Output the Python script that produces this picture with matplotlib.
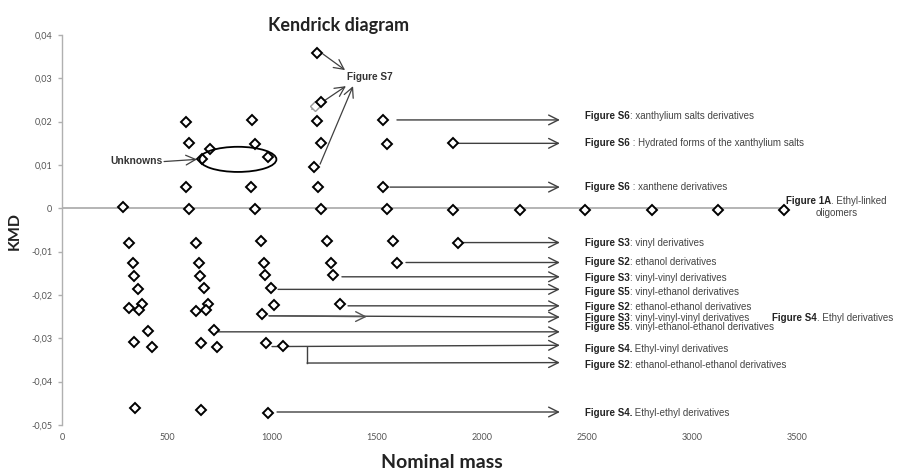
import matplotlib
matplotlib.use("Agg")
import matplotlib.pyplot as plt
from matplotlib.patches import Ellipse

# ---------------- data ----------------
nominal_mass = [
    290, 605, 919, 1233, 1548, 1862, 2181, 2490, 2810, 3124, 3438,
    590, 605, 667, 705, 590,
    905, 919, 981, 900,
    1214, 1233, 1214, 1233, 1200, 1219,
    1529, 1548, 1529,
    1862,
    320, 338, 343, 362, 381, 319, 367, 410, 343, 429, 348,
    637, 652, 657, 676, 693, 637, 684, 724, 660, 740, 660,
    948, 964, 969, 993, 1010, 950, 971, 1052, 981,
    1260, 1281, 1290, 1324,
    1576, 1595,
    1886,
]
kmd = [
    0.0002, -0.0002, -0.0002, -0.0002, -0.0002, -0.0004, -0.0004, -0.0004, -0.0004, -0.0004, -0.0004,
    0.0200, 0.0150, 0.0113, 0.0137, 0.0049,
    0.0204, 0.0148, 0.0118, 0.0049,
    0.0359, 0.0245, 0.0201, 0.0150, 0.0095, 0.0049,
    0.0204, 0.0148, 0.0049,
    0.0150,
    -0.0079, -0.0127, -0.0157, -0.0185, -0.0220, -0.0231, -0.0234, -0.0282, -0.0308, -0.0319, -0.0460,
    -0.0079, -0.0126, -0.0155, -0.0183, -0.0220, -0.0236, -0.0234, -0.0280, -0.0310, -0.0319, -0.0465,
    -0.0076, -0.0126, -0.0153, -0.0183, -0.0222, -0.0243, -0.0310, -0.0317, -0.0472,
    -0.0076, -0.0125, -0.0153, -0.0220,
    -0.0076, -0.0126,
    -0.0079,
]

# faint ghost marker near the S7 group
ghost_mass = [1205]
ghost_kmd = [0.0236]

x_ticks = [0, 500, 1000, 1500, 2000, 2500, 3000, 3500]
y_ticks = [0.04, 0.03, 0.02, 0.01, 0.0, -0.01, -0.02, -0.03, -0.04, -0.05]
y_tick_labels = ["0,04", "0,03", "0,02", "0,01", "0", "-0,01", "-0,02", "-0,03", "-0,04", "-0,05"]

# series-annotation arrows: start mass, start kmd, end kmd (end mass common)
arrow_end_mass = 2371
arrow_start_mass = [1595, 1862, 1562, 1886, 1638, 1333, 1029, 1362, 986, 743, 1000, 1024]
arrow_start_kmd = [0.0204, 0.0150, 0.0049, -0.0079, -0.0125, -0.0158, -0.0187, -0.0225,
                   -0.0248, -0.0285, -0.0319, -0.0470]
arrow_end_kmd = [0.0204, 0.0150, 0.0049, -0.0079, -0.0125, -0.0158, -0.0187, -0.0225,
                 -0.0251, -0.0285, -0.0316, -0.0470]

# bracket for ethanol-ethanol-ethanol
bracket_mass = 1167
bracket_kmd = [-0.0319, -0.0357]

# short arrow (vinyl-vinyl-vinyl)
short_arrow = [(986, -0.0248), (1452, -0.0250)]

# labels: bold part, normal part, kmd position
label_mass = 2490
label_bold = ["Figure S6", "Figure S6", "Figure S6",
              "Figure S3", "Figure S2", "Figure S3", "Figure S5", "Figure S2",
              "Figure S3", "Figure S5", "Figure S4.", "Figure S2", "Figure S4."]
label_rest = [": xanthylium salts derivatives", " : Hydrated forms of the xanthylium salts",
              " : xanthene derivatives",
              ": vinyl derivatives", ": ethanol derivatives", ": vinyl-vinyl derivatives",
              ": vinyl-ethanol derivatives", ": ethanol-ethanol derivatives",
              ": vinyl-vinyl-vinyl derivatives", ". vinyl-ethanol-ethanol derivatives",
              " Ethyl-vinyl derivatives", ": ethanol-ethanol-ethanol derivatives",
              " Ethyl-ethyl derivatives"]
label_kmd = [0.0213, 0.0150, 0.0049, -0.0079, -0.0123, -0.0160, -0.0192, -0.0227,
             -0.0253, -0.0274, -0.0324, -0.0361, -0.0472]

# S7 arrows
s7_start = [(1243, 0.0356), (1190, 0.0229), (1229, 0.0102)]
s7_end = [(1348, 0.0319), (1352, 0.0282), (1386, 0.0282)]

# ---------------- figure ----------------
W, H = 899, 471
fig = plt.figure(figsize=(W / 100, H / 100), dpi=100)
ax_left, ax_right, ax_top, ax_bot = 62, 899, 35, 425
ax = fig.add_axes([ax_left / W, (H - ax_bot) / H, (ax_right - ax_left) / W, (ax_bot - ax_top) / H])
xmax = (ax_right - ax_left) * 500 / 105
ax.set_xlim(0, xmax)
ax.set_ylim(-0.05, 0.04)

for s in ["top", "right", "bottom"]:
    ax.spines[s].set_visible(False)
ax.spines["left"].set_color("#b0b0b0")
ax.spines["left"].set_linewidth(1.0)

tick_font = dict(family="Lato", size=6.5, color="#555555")
ax.set_xticks(x_ticks)
ax.set_xticklabels([str(v) for v in x_ticks], **tick_font)
ax.set_yticks(y_ticks)
ax.set_yticklabels(y_tick_labels, **tick_font)
ax.tick_params(axis="x", length=0, pad=6)
ax.tick_params(axis="y", length=3, width=1, color="#b0b0b0", pad=4)

# zero line
ax.plot([0, 3438], [0, 0], color="#a8a8a8", lw=1.2, zorder=1)

line_c = "#404040"
ahead = "->,head_length=0.7,head_width=0.35"

def arrow(p0, p1, lw=1.0, color=line_c):
    ax.annotate("", xy=p1, xytext=p0,
                arrowprops=dict(arrowstyle=ahead, color=color, lw=lw,
                                shrinkA=0, shrinkB=0, mutation_scale=10),
                annotation_clip=False, zorder=2)

for xs, ys, ye in zip(arrow_start_mass, arrow_start_kmd, arrow_end_kmd):
    arrow((xs, ys), (arrow_end_mass, ye))

# bracket + ethanol x3 arrow
ax.plot([bracket_mass, bracket_mass], bracket_kmd, color=line_c, lw=1.0, zorder=2)
arrow((bracket_mass, bracket_kmd[1]), (arrow_end_mass, -0.0356))

arrow(short_arrow[0], short_arrow[1], color="#555555")

for p0, p1 in zip(s7_start, s7_end):
    arrow(p0, p1, lw=0.9)

# markers
ax.plot(ghost_mass, ghost_kmd, linestyle="none", marker="D", ms=5.2, mfc="white",
        mec="#9a9a9a", mew=1.0, zorder=3)
ax.plot(nominal_mass, kmd, linestyle="none", marker="D", ms=5.2, mfc="white",
        mec="black", mew=1.4, zorder=4)

# ellipse for unknowns
ax.add_patch(Ellipse((838, 0.0113), 366, 0.0058, fill=False, ec="black", lw=1.3, zorder=5))
ax.text(229, 0.0109, "Unknowns", family="Liberation Sans", fontweight="bold", size=7.4,
        color="#333333", va="center", ha="left")
arrow((486, 0.0108), (643, 0.0113), lw=0.9)

ax.text(1357, 0.0303, "Figure S7", family="Liberation Sans", fontweight="bold", size=7.2,
        color="#333333", va="center", ha="left")

# series labels
txt_size = 7.0
def rich(x, y, bold, rest):
    t = ax.text(x, y, bold, family="Liberation Sans", fontweight="bold", size=txt_size,
                color="#222222", va="center", ha="left", clip_on=False)
    ax.annotate(rest, xy=(1, 0), xycoords=t, va="bottom", ha="left",
                family="Liberation Sans", size=txt_size, color="#444444",
                annotation_clip=False)
    return t

for b, r, y in zip(label_bold, label_rest, label_kmd):
    rich(label_mass, y, b, r)

rich((772 - ax_left) * 500 / 105, -0.0253, "Figure S4", ". Ethyl derivatives")

# Figure 1A two-line label
rich((786 - ax_left) * 500 / 105, 0.0016, "Figure 1A", ". Ethyl-linked")
ax.text(3690, -0.0010, "oligomers", family="Liberation Sans", size=txt_size,
        color="#444444", va="center", ha="center", clip_on=False)

# titles
fig.text(339 / W, 1 - 25 / H, "Kendrick diagram", family="Lato", fontweight="bold",
         size=13, color="#222222", ha="center", va="center")
fig.text(15 / W, 1 - 231 / H, "KMD", family="Lato", fontweight="bold", size=11.5,
         color="#222222", ha="center", va="center", rotation=90)
fig.text(442 / W, 1 - 463 / H, "Nominal mass", family="Lato", fontweight="bold", size=14,
         color="#222222", ha="center", va="center")

fig.savefig("out.png", dpi=100)
